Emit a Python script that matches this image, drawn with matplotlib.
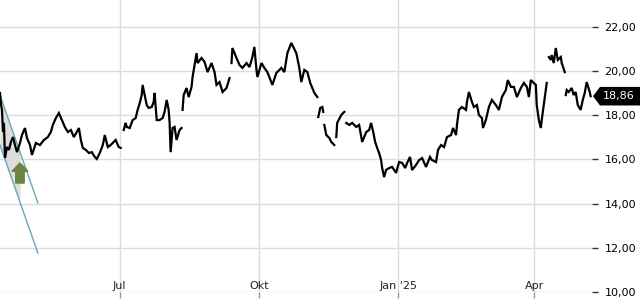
import numpy as np
import pandas as pd
import matplotlib
matplotlib.use("Agg")
import matplotlib.pyplot as plt
import matplotlib.dates as mdates
from matplotlib.patches import FancyArrow, Polygon
from matplotlib.transforms import blended_transform_factory

nan = np.nan

# price series: days since 2024-04-13 and close; nan marks a break in the line
START = pd.Timestamp("2024-04-13")
days = [
    0.0, 0.7, 1.3, 2.0, 2.6, 3.3, 4.6, 5.9, 7.2, 8.6, 9.9, 11.2, 13.2, 14.5, 16.5, 17.8,
    19.8, 21.1, 23.7, 26.4, 29.0, 31.6, 33.6, 34.9, 36.9, 38.9, 40.9, 42.8, 44.8, 46.8,
    48.8, 50.7, 52.1, 53.4, 54.7, 56.7, 58.7, 60.6, 62.6, 63.9, 65.9, 67.9, 69.2, 71.2,
    73.1, 75.1, 76.4, 78.4, 79.7, 80.3,
    81.7, 83.0, 83.7, 85.7, 87.6, 89.6, 90.9, 92.3, 93.6, 94.2, 95.6, 96.9, 98.2, 100.2,
    101.5, 102.1, 102.8, 103.5, 105.4, 107.4, 108.7, 110.1, 111.4, 112.0, 112.7, 114.0,
    115.3, 116.6, 118.6, 119.9, 120.3,
    120.6, 121.3, 123.2, 124.6, 126.5, 127.2, 128.5, 129.8, 130.5, 133.1, 135.1, 137.1,
    139.7, 141.7, 143.0, 145.0, 147.0, 149.6, 151.6, 152.0,
    152.9, 153.5, 156.2, 158.2, 160.1, 162.8, 164.8, 166.7, 168.0, 169.4, 170.0, 172.7,
    174.6, 176.6, 179.9, 182.5, 185.8, 187.8, 189.8, 192.4, 195.7, 197.7, 199.0, 201.0,
    203.0, 204.9, 207.6, 209.6, 210.0,
    210.2, 211.5, 212.9, 213.5, 213.9,
    214.2, 215.5, 217.5, 218.8, 220.8, 221.3,
    222.1, 222.7, 225.4, 227.4, 228.0,
    228.7, 230.7, 232.6, 235.3, 237.2, 239.2, 241.9, 243.8, 245.1, 246.5, 247.8, 249.1,
    250.4, 251.7, 252.4, 253.7, 255.0, 257.0, 259.0, 261.6, 263.6, 265.6, 267.6, 268.9,
    270.8, 272.2, 274.8, 276.8, 278.8, 281.4, 284.0, 285.3, 288.0, 289.3, 291.3, 293.3,
    295.2, 297.9, 299.2, 301.2, 301.8, 303.1, 305.1, 307.8, 308.4, 309.7, 311.7, 313.0,
    315.0, 316.3, 318.3, 319.0, 320.9, 322.9, 324.9, 327.5, 329.5, 331.5, 334.1, 335.4,
    337.4, 339.4, 341.4, 344.0, 346.0, 348.0, 349.3, 350.6, 352.6, 353.9, 354.5, 355.9,
    357.2, 357.8, 359.8, 361.1, 361.5,
    362.5, 363.8, 364.4, 365.7, 367.1, 368.4, 370.4, 371.0, 373.0, 373.3,
    373.7, 374.3, 375.6, 377.6, 378.9, 380.2, 381.6, 383.5, 384.9, 386.2, 387.5, 389.5,
    390.1,
]
closes = [
    19.01, 18.46, 18.24, 17.24, 17.65, 16.06, 16.56, 16.43, 16.79, 17.01, 16.65, 16.33,
    16.74, 17.10, 17.42, 16.97, 16.65, 16.20, 16.74, 16.65, 16.88, 17.01, 17.24, 17.56,
    17.87, 18.10, 17.78, 17.47, 17.24, 17.33, 17.01, 17.24, 17.42, 16.88, 16.52, 16.43,
    16.29, 16.33, 16.11, 16.02, 16.29, 16.65, 17.10, 16.56, 16.65, 16.79, 16.88, 16.56,
    16.52, nan,
    17.33, 17.65, 17.47, 17.42, 17.78, 17.87, 18.24, 18.55, 18.91, 19.37, 18.91, 18.46,
    18.33, 18.37, 18.60, 19.01, 18.37, 17.78, 17.78, 17.87, 18.15, 18.69, 18.24, 17.69,
    16.33, 17.42, 17.47, 16.88, 17.33, 17.42, nan,
    18.24, 18.91, 19.23, 18.82, 19.28, 19.73, 20.27, 20.81, 20.36, 20.59, 20.41, 19.95,
    20.36, 19.95, 19.37, 19.50, 19.05, 19.23, 19.68, nan,
    20.36, 21.04, 20.59, 20.27, 20.14, 20.36, 20.18, 20.63, 21.09, 20.05, 19.73, 20.36,
    20.14, 19.95, 19.37, 19.91, 20.14, 19.95, 20.81, 21.27, 20.81, 20.14, 19.50, 20.05,
    19.95, 19.46, 19.01, 18.82, nan,
    17.92, 18.33, 18.37, 18.15, nan,
    17.56, 17.10, 16.97, 16.79, 16.65, nan,
    17.01, 17.65, 18.01, 18.15, nan,
    17.65, 17.56, 17.65, 17.47, 17.56, 16.79, 17.24, 17.33, 17.65, 17.24, 16.79, 16.52,
    16.29, 15.97, 15.61, 15.20, 15.52, 15.61, 15.66, 15.39, 15.88, 15.84, 15.61, 15.84,
    16.11, 15.52, 15.75, 15.97, 16.06, 15.66, 16.11, 15.97, 15.88, 16.43, 16.65, 16.56,
    17.01, 17.10, 17.42, 17.10, 17.56, 18.24, 18.37, 18.24, 18.60, 19.05, 18.60, 18.37,
    18.46, 18.01, 17.87, 17.42, 17.78, 18.37, 18.69, 18.46, 18.24, 18.82, 19.14, 19.59,
    19.28, 19.28, 18.82, 19.23, 19.46, 19.28, 18.82, 19.59, 19.46, 19.37, 18.46, 17.78,
    17.42, 17.78, 18.82, 19.46, nan,
    20.63, 20.50, 20.72, 20.36, 21.04, 20.50, 20.63, 20.36, 19.95, nan,
    18.91, 19.14, 19.05, 19.23, 18.91, 19.05, 18.46, 18.24, 18.69, 19.01, 19.50, 19.05,
    18.86,
]

# downtrend channel at the left edge (two parallel lines)
channel_days = [0.0, 25.0]
channel_upper = [18.91, 14.03]
channel_lower = [16.65, 11.76]
shade_end_day = 13.2

# buy signal arrow
signal_day = 13.2
signal_low = 14.93
signal_high = 15.84

month_ticks = ["2024-07-01", "2024-10-01", "2025-01-01", "2025-04-01"]
month_labels = ["Jul", "Okt", "Jan '25", "Apr"]
y_ticks = [10, 12, 14, 16, 18, 20, 22]

dates = START + pd.to_timedelta(days, unit="D")
ch_dates = START + pd.to_timedelta(channel_days, unit="D")

fig = plt.figure(figsize=(6.4, 3.0), dpi=100)
ax = fig.add_axes([0, 8 / 300, 592 / 640, 292 / 300])

# grid
for yv in y_ticks:
    ax.axhline(yv, color="#dcdcdc", linewidth=1, zorder=0)
for m in month_ticks:
    ax.axvline(pd.Timestamp(m), color="#dcdcdc", linewidth=1, zorder=0)

# channel shade and lines
t_sh = np.array([START, START + pd.Timedelta(days=shade_end_day)])
k = (channel_upper[1] - channel_upper[0]) / (channel_days[1] - channel_days[0])
up_sh = [channel_upper[0], channel_upper[0] + k * shade_end_day]
lo_sh = [channel_lower[0], channel_lower[0] + k * shade_end_day]
ax.fill_between(t_sh, lo_sh, up_sh, color="#dddddd", zorder=1, linewidth=0)
ax.plot(ch_dates, channel_upper, color="#62aab6", linewidth=1, zorder=2)
ax.plot(ch_dates, channel_lower, color="#62aab6", linewidth=1, zorder=2)

# price
ax.plot(dates, closes, color="black", linewidth=1.6, zorder=3,
        solid_joinstyle="miter")

# arrow
x_sig = mdates.date2num(START + pd.Timedelta(days=signal_day))
ax.add_patch(FancyArrow(x_sig, signal_low, 0, signal_high - signal_low,
                        width=5.6, head_width=10.5, head_length=0.38,
                        length_includes_head=True, color="#6d8440", zorder=4))

ax.set_xlim(START, START + pd.Timedelta(days=391))
ax.set_ylim(10, 10 + 292 / 22.1)

for s in ax.spines.values():
    s.set_visible(False)

ax.yaxis.tick_right()
ax.set_yticks(y_ticks)
ax.set_yticklabels([f"{v:.2f}".replace(".", ",") for v in y_ticks], fontsize=8)
ax.tick_params(axis="y", length=4, width=1, color="#333333", pad=5)

ax.set_xticks([pd.Timestamp(m) for m in month_ticks])
ax.set_xticklabels([])
ax.tick_params(axis="x", length=4, width=1, color="#999999", direction="out")
trans = blended_transform_factory(ax.transData, ax.transAxes)
for m, lab in zip(month_ticks, month_labels):
    ax.text(pd.Timestamp(m), 0.004, lab, transform=trans, ha="center", va="bottom",
            fontsize=8, color="#222222")

# last price tag
last = closes[-1]
tb = blended_transform_factory(fig.transFigure, ax.transData)
h = 0.42
tag = Polygon([(593 / 640, last), (600 / 640, last + h), (1.0, last + h),
               (1.0, last - h), (600 / 640, last - h)],
              closed=True, transform=tb, facecolor="black", edgecolor="none",
              clip_on=False)
fig.add_artist(tag)
fig.text(619 / 640, last, f"{last:.2f}".replace(".", ","), transform=tb,
         color="white", fontsize=8, ha="center", va="center")

fig.savefig("out.png", dpi=100)
